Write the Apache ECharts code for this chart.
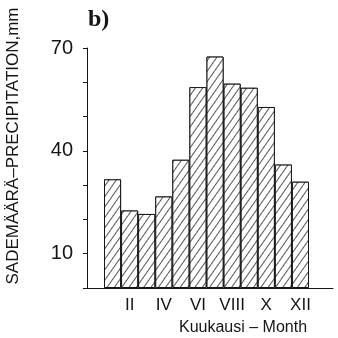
<!DOCTYPE html>
<html>
<head>
<meta charset="utf-8">
<script src="https://cdn.jsdelivr.net/npm/echarts@6/dist/echarts.min.js"></script>
<style>
  html, body { margin: 0; padding: 0; background: #fff; }
  #chart { width: 338px; height: 338px; }
</style>
</head>
<body>
<div id="chart"></div>
<script>
// monthly precipitation, mm
const months = ["I", "II", "III", "IV", "V", "VI", "VII", "VIII", "IX", "X", "XI", "XII"];
const precipitation = [31.7, 22.6, 21.6, 26.7, 37.4, 58.6, 67.5, 59.6, 58.4, 52.8, 36.0, 31.0];
const yLabels = [10, 40, 70];

const chart = echarts.init(document.getElementById("chart"));

const font = "'Liberation Sans', Arial, sans-serif";
const ink = "#151515";

chart.setOption({
  animation: false,
  backgroundColor: "#fff",
  graphic: [
    {
      type: "text",
      x: 13, y: 146, rotation: Math.PI / 2,
      style: {
        text: "SADEMÄÄRÄ–PRECIPITATION,mm",
        font: "17px " + font, fill: ink,
        textAlign: "center", textVerticalAlign: "middle"
      }
    },
    {
      type: "text",
      x: 88, y: 8,
      style: { text: "b)", font: "bold 24px 'Liberation Serif', 'Times New Roman', serif", fill: ink }
    },
    {
      type: "text",
      x: 243, y: 328,
      style: {
        text: "Kuukausi – Month", font: "16px " + font, fill: ink,
        textAlign: "center", textVerticalAlign: "middle"
      }
    }
  ],
  grid: [
    // frame with axis lines
    { left: 87, right: 5, top: 48, height: 240 },
    // bars
    { left: 104, right: 29, top: 48, height: 240 }
  ],
  xAxis: [
    {
      gridIndex: 0, type: "value", min: 0, max: 1,
      axisLine: { show: true, lineStyle: { color: ink, width: 1 } },
      axisTick: { show: false }, axisLabel: { show: false }, splitLine: { show: false }
    },
    {
      gridIndex: 1, type: "category", data: months,
      axisLine: { show: false }, axisTick: { show: false }, splitLine: { show: false },
      axisLabel: {
        interval: (i) => i % 2 === 1,
        fontSize: 17, fontFamily: font, color: ink, margin: 9
      }
    }
  ],
  yAxis: [
    {
      gridIndex: 0, type: "value", min: 0, max: 70, interval: 10,
      axisLine: { show: true, lineStyle: { color: ink, width: 1 } },
      axisTick: { show: true, length: 4, lineStyle: { color: ink } },
      splitLine: { show: false },
      axisLabel: {
        fontSize: 20, fontFamily: font, color: ink, margin: 14,
        formatter: (v) => (yLabels.includes(v) ? String(v) : "")
      }
    },
    {
      gridIndex: 1, type: "value", min: 0, max: 70, show: false
    }
  ],
  series: [
    {
      type: "bar",
      xAxisIndex: 1, yAxisIndex: 1,
      data: precipitation,
      barCategoryGap: 0,
      itemStyle: {
        color: "#fff",
        borderColor: ink,
        borderWidth: 1,
        decal: {
          symbol: "rect",
          symbolSize: 1,
          dashArrayX: [1, 0],
          dashArrayY: [1, 4.2],
          rotation: -0.96,
          color: "#555",
          backgroundColor: "#fff"
        }
      }
    }
  ]
});
</script>
</body>
</html>
